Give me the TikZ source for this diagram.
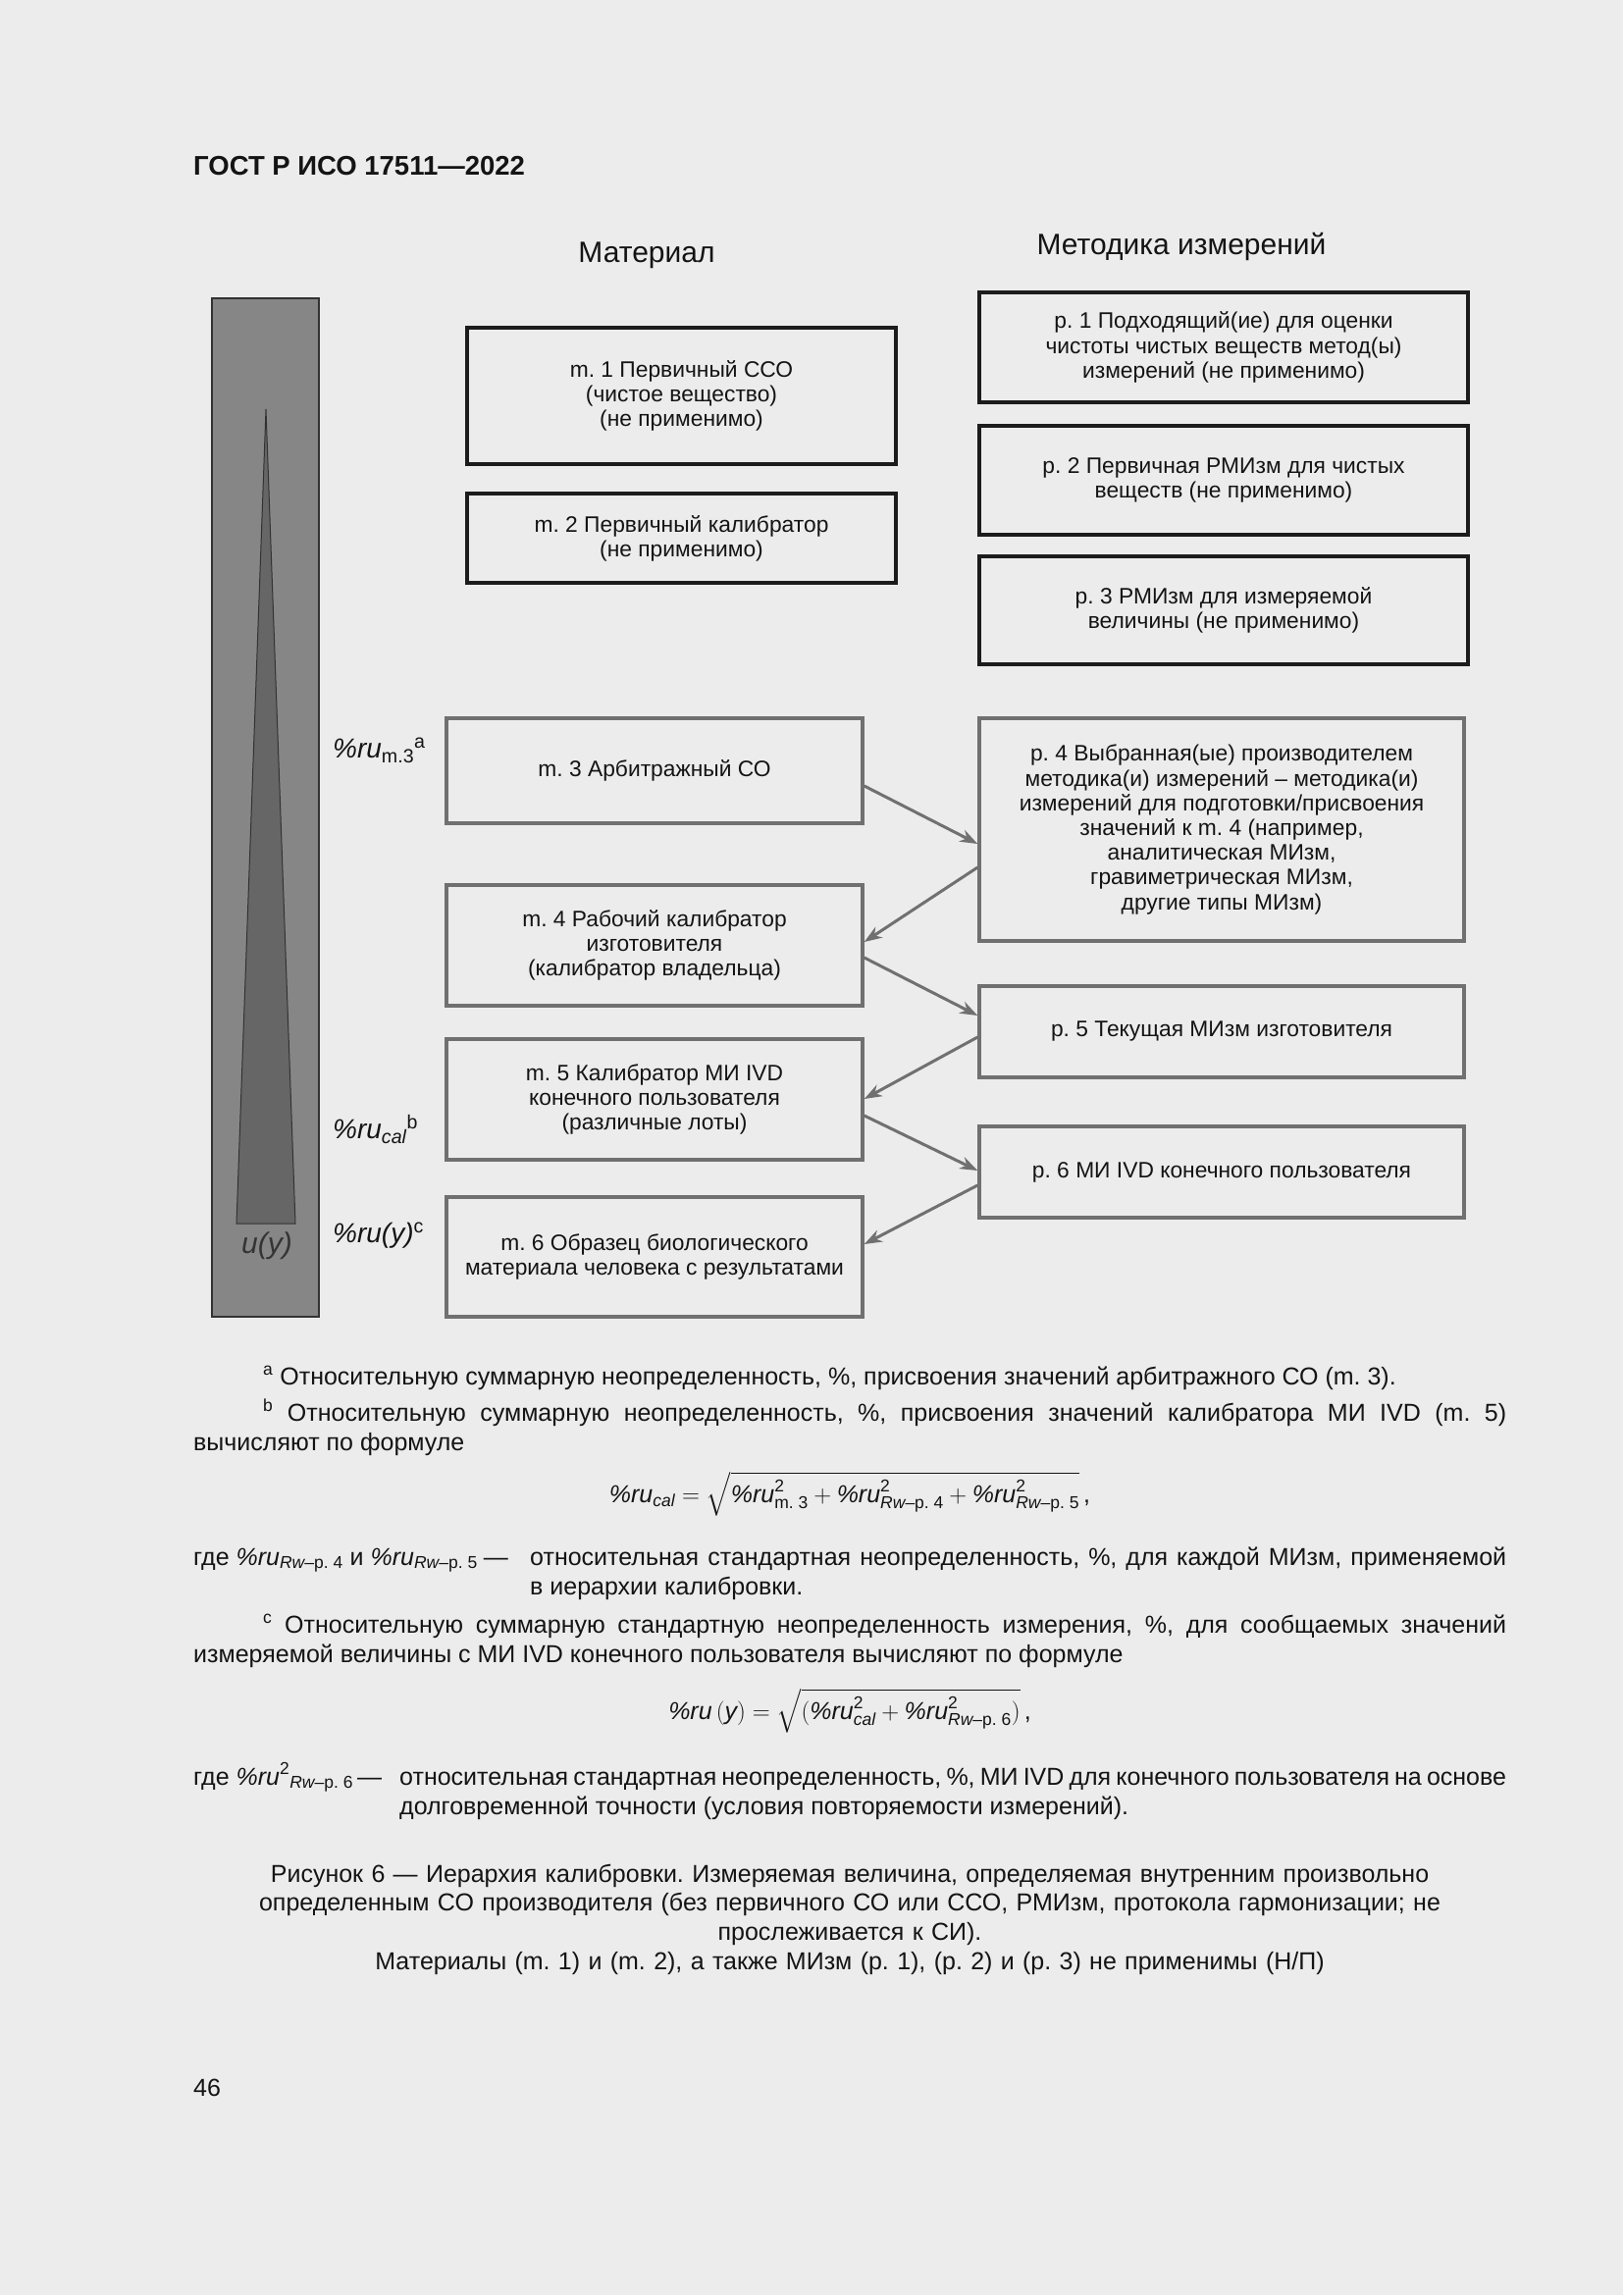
\documentclass[tikz,border=0pt]{standalone}
\usepackage{amsmath}
\usepackage{fontspec}
\setmainfont{Liberation Sans}
\usetikzlibrary{arrows.meta,calc}
\definecolor{pagebg}{RGB}{236,236,236}
\definecolor{boxdark}{RGB}{28,28,28}
\definecolor{boxgray}{RGB}{112,112,112}
\definecolor{barfill}{RGB}{134,134,134}
\definecolor{barline}{RGB}{50,50,50}
\definecolor{trifill}{RGB}{102,102,102}
\definecolor{txt}{RGB}{20,20,20}
\newcommand{\pru}{\text{\itshape\%ru}}
\newcommand{\itx}[1]{\text{\itshape #1}}
\frenchspacing
\begin{document}
\frenchspacing
\begin{tikzpicture}[x=1pt,y=-1pt,
  topbox/.style={draw=boxdark, line width=3.5pt, fill=pagebg, align=center, inner sep=0pt, text=txt,
    font=\fontsize{22.8}{25.2}\selectfont\frenchspacing},
  lowbox/.style={topbox, draw=boxgray},
  arr/.style={draw=boxgray, line width=3pt, -{Stealth[length=18pt,width=13pt]}},
  body/.style={inner sep=0pt, text=txt, font=\fontsize{25}{30.5}\selectfont\frenchspacing},
  lbl/.style={inner sep=0pt, text=txt, font=\fontsize{28}{32}\selectfont, anchor=base west}]
\fill[pagebg] (0,0) rectangle (1654,2339);
\useasboundingbox (0,0) rectangle (1654,2339);

% header
\node[body, anchor=base west, font=\fontsize{27.5}{31}\selectfont\bfseries] (hdr) at (197,178) {ГОСТ Р ИСО 17511—2022};
\node[body, anchor=base, font=\fontsize{30}{34}\selectfont] (hmat) at (659,267) {Материал};
\node[body, anchor=base, font=\fontsize{30}{34}\selectfont] (hmet) at (1204,259) {Методика измерений};

% gauge bar
\draw[fill=barfill, draw=barline, line width=2.5pt] (216,304) rectangle (325,1342);
\draw[fill=trifill, draw=barline, line width=1pt] (271,417) -- (241,1247) -- (301,1247) -- cycle;
\node[inner sep=0pt, anchor=base, text={rgb,255:red,52;green,52;blue,52}, font=\fontsize{30}{34}\selectfont\itshape] (uy) at (272,1277) {u(y)};

% left labels
\node[lbl] (l1) at (339,772) {$\pru_{\text{m.3}}{}^{\text{a}}$};
\node[lbl] (l2) at (339,1160) {$\pru_{\itx{cal}}{}^{\text{b}}$};
\node[lbl] (l3) at (339,1266) {\itshape\%ru(y)\textsuperscript{\upshape c}};

% material boxes
\node[topbox, minimum width=437pt, minimum height=139pt] (m1) at (694.5,403.5)
  {m. 1 Первичный ССО\\(чистое вещество)\\(не применимо)};
\node[topbox, minimum width=437pt, minimum height=91pt] (m2) at (694.5,548.5)
  {m. 2 Первичный калибратор\\(не применимо)};
\node[lowbox, minimum width=424pt, minimum height=107pt] (m3) at (667,785.5)
  {m. 3 Арбитражный СО};
\node[lowbox, minimum width=424pt, minimum height=123pt] (m4) at (667,963.5)
  {m. 4 Рабочий калибратор\\изготовителя\\(калибратор владельца)};
\node[lowbox, minimum width=424pt, minimum height=123pt] (m5) at (667,1120.5)
  {m. 5 Калибратор МИ IVD\\конечного пользователя\\(различные лоты)};
\node[lowbox, minimum width=424pt, minimum height=122pt] (m6) at (667,1281)
  {m. 6 Образец биологического\\материала человека с результатами};

% procedure boxes
\node[topbox, minimum width=498pt, minimum height=112pt] (p1) at (1247,354)
  {p. 1 Подходящий(ие) для оценки\\чистоты чистых веществ метод(ы)\\измерений (не применимо)};
\node[topbox, minimum width=498pt, minimum height=111pt] (p2) at (1247,489.5)
  {p. 2 Первичная РМИзм для чистых\\веществ (не применимо)};
\node[topbox, minimum width=498pt, minimum height=110pt] (p3) at (1247,622)
  {p. 3 РМИзм для измеряемой\\величины (не применимо)};
\node[lowbox, minimum width=494pt, minimum height=227pt] (p4) at (1245,845.5)
  {p. 4 Выбранная(ые) производителем\\методика(и) измерений – методика(и)\\измерений для подготовки/присвоения\\значений к m. 4 (например,\\аналитическая МИзм,\\гравиметрическая МИзм,\\другие типы МИзм)};
\node[lowbox, minimum width=494pt, minimum height=93pt] (p5) at (1245,1051.5)
  {p. 5 Текущая МИзм изготовителя};
\node[lowbox, minimum width=494pt, minimum height=93pt] (p6) at (1245,1194.5)
  {p. 6 МИ IVD конечного пользователя};

% connectors
\draw[arr] ([yshift=-15.5pt]m3.east) -- ([yshift=-14.5pt]p4.west);
\draw[arr] ([yshift=-38.5pt]p4.west) -- ([yshift=3.5pt]m4.east);
\draw[arr] ([yshift=-12.5pt]m4.east) -- ([yshift=16.5pt]p5.west);
\draw[arr] ([yshift=-5.5pt]p5.west) -- ([yshift=0.5pt]m5.east);
\draw[arr] ([yshift=-16.5pt]m5.east) -- ([yshift=1.5pt]p6.west);
\draw[arr] ([yshift=-13.5pt]p6.west) -- ([yshift=13pt]m6.east);

% footnotes
\node[body, anchor=base west] (fa) at (268,1411)
  {\textsuperscript{a}\ Относительную суммарную неопределенность, \%, присвоения значений арбитражного СО (m. 3).};
\node[body, anchor=base west, text width=1338pt, align=justify] (fb) at (197,1448)
  {\hspace*{71pt}\textsuperscript{b}\ Относительную суммарную неопределенность, \%, присвоения значений калибратора МИ IVD (m.~5)\linebreak вычисляют по формуле};
\node[body, anchor=base] (f1) at (866,1531)
  {$\pru_{\itx{cal}} = \sqrt{\pru^{\text{2}}_{\text{m. 3}} + \pru^{\text{2}}_{\itx{Rw}\text{–p. 4}} + \pru^{\text{2}}_{\itx{Rw}\text{–p. 5}}}\,$,};
\node[body, anchor=base west] (g1) at (197,1595)
  {где $\pru_{\itx{Rw}\text{–p. 4}}$ и $\pru_{\itx{Rw}\text{–p. 5}}$\hspace{6pt}—};
\node[body, anchor=base west, text width=995pt, align=justify] (g1t) at (540,1595)
  {относительная стандартная неопределенность, \%, для каждой МИзм, применяемой\linebreak в иерархии калибровки.};
\node[body, anchor=base west, text width=1338pt, align=justify] (fc) at (197,1664)
  {\hspace*{71pt}\textsuperscript{c}\ Относительную суммарную стандартную неопределенность измерения, \%, для сообщаемых значений\linebreak измеряемой величины с МИ IVD конечного пользователя вычисляют по формуле};
\node[body, anchor=base] (f2) at (866,1752)
  {$\pru\left(\itx{y}\right) = \sqrt{(\pru^{\text{2}}_{\itx{cal}} + \pru^{\text{2}}_{\itx{Rw}\text{–p. 6}})}\,$,};
\node[body, anchor=base west] (g2) at (197,1819)
  {где $\pru^{\text{2}}{}_{\itx{Rw}\text{–p. 6}}$\hspace{4pt}—};
\node[body, anchor=base west, text width=1128pt, align=justify] (g2t) at (407,1819)
  {относительная стандартная неопределенность, \%, МИ IVD для конечного пользователя на основе\linebreak долговременной точности (условия повторяемости измерений).};

% caption
\node[body, anchor=base, text width=1400pt, align=center, font=\fontsize{25}{29.7}\selectfont\frenchspacing] (cap) at (866,1918)
  {Рисунок 6 — Иерархия калибровки. Измеряемая величина, определяемая внутренним произвольно\\
   определенным СО производителя (без первичного СО или ССО, РМИзм, протокола гармонизации; не\\
   прослеживается к СИ).\\
   Материалы (m. 1) и (m. 2), а также МИзм (p. 1), (p. 2) и (p. 3) не применимы (Н/П)};

\node[body, anchor=base west] (pg) at (197,2136) {46};
\end{tikzpicture}
\end{document}
